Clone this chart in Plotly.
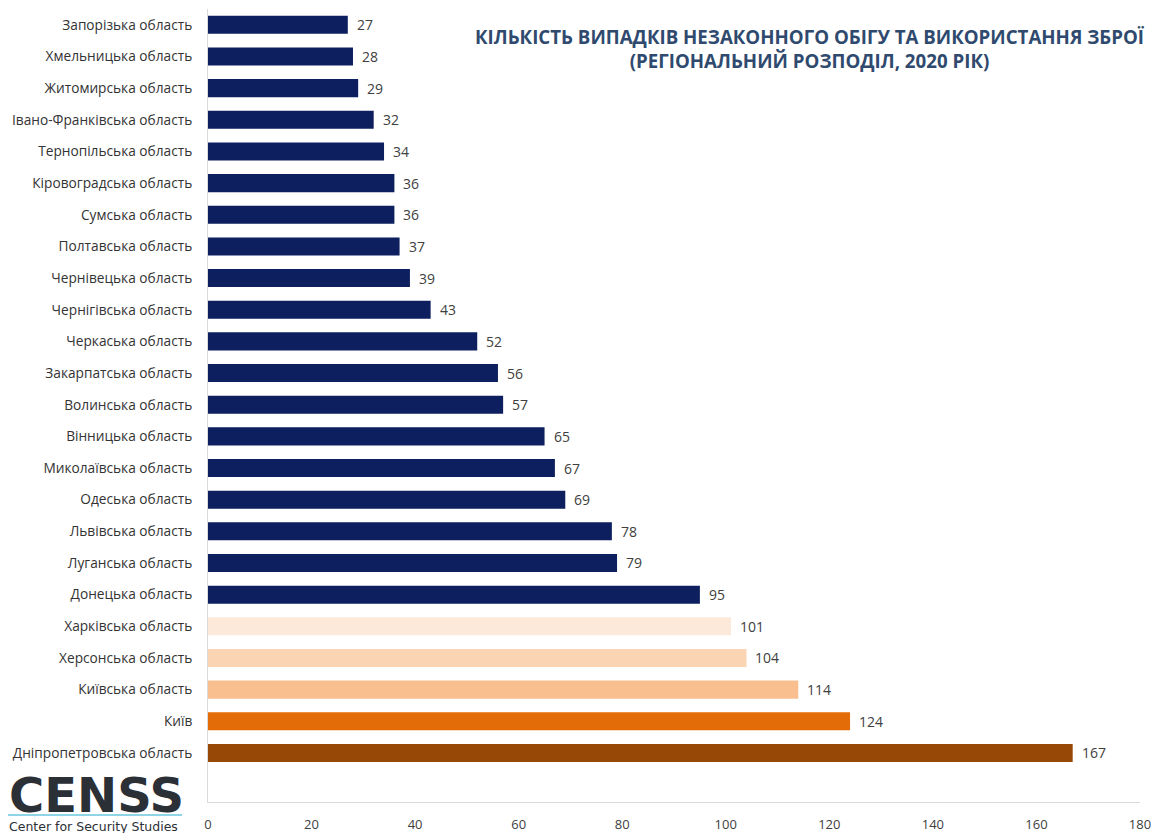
import plotly.graph_objects as go

regions = [
    "Запорізька область", "Хмельницька область", "Житомирська область",
    "Івано-Франківська область", "Тернопільська область", "Кіровоградська область",
    "Сумська область", "Полтавська область", "Чернівецька область",
    "Чернігівська область", "Черкаська область", "Закарпатська область",
    "Волинська область", "Вінницька область", "Миколаївська область",
    "Одеська область", "Львівська область", "Луганська область",
    "Донецька область", "Харківська область", "Херсонська область",
    "Київська область", "Київ", "Дніпропетровська область",
]
values = [27, 28, 29, 32, 34, 36, 36, 37, 39, 43, 52, 56, 57, 65, 67, 69,
          78, 79, 95, 101, 104, 114, 124, 167]
colors = ["#0d1f5e"] * 19 + ["#fde9d9", "#fbd4b4", "#fabf8f", "#e36c09", "#974806"]
x_ticks = [0, 20, 40, 60, 80, 100, 120, 140, 160, 180]

# page has an 8px body margin: the figure sits at (8, 8) on screen
OFF = 8
W, H = 1162 - OFF, 833 - OFF
L, T, R, B = 208 - OFF, 9 - OFF, 22, 31
PW, PH = W - L - R, H - T - B


def px(xs):
    return (xs - OFF - L) / PW


def py(ys):
    return 1 - (ys - OFF - T) / PH


fig = go.Figure(go.Bar(
    x=values, y=regions, orientation="h",
    marker=dict(color=colors, line=dict(width=0)),
    width=0.57,
    hoverinfo="x+y",
))

for v, r in zip(values, regions):
    fig.add_annotation(x=v, y=r, text=str(v), xanchor="left", yanchor="middle",
                       xshift=7, showarrow=False,
                       font=dict(family="Open Sans", size=14, color="#404040"))

fig.update_layout(
    width=W, height=H,
    margin=dict(l=L, r=R, t=T, b=B, autoexpand=False),
    paper_bgcolor="white", plot_bgcolor="white",
    showlegend=False,
    font=dict(family="Open Sans", size=13, color="#333333"),
    xaxis=dict(range=[0, 180], tickvals=x_ticks, showgrid=False, zeroline=False,
               showline=True, linecolor="#d9d9d9", linewidth=1, automargin=False,
               tickfont=dict(size=13, color="#404040"), ticklabelstandoff=10),
    yaxis=dict(type="category", range=[24.55, -0.5], showgrid=False,
               showline=True, linecolor="#d9d9d9", linewidth=1, automargin=False,
               tickfont=dict(size=13.7, color="#333333"), ticklabelstandoff=12),
)

fig.add_annotation(
    text="<b>КІЛЬКІСТЬ ВИПАДКІВ НЕЗАКОННОГО ОБІГУ ТА ВИКОРИСТАННЯ ЗБРОЇ</b><br><b>(РЕГІОНАЛЬНИЙ РОЗПОДІЛ, 2020 РІК)</b>",
    xref="paper", yref="paper", x=px(810), y=py(49),
    xanchor="center", yanchor="middle", showarrow=False, align="center",
    font=dict(family="Open Sans", size=18.7, color="#2f4a6e"),
)

# CENSS logo
fig.add_annotation(
    text="<b>CENSS</b>", xref="paper", yref="paper",
    x=px(7), y=py(795), xanchor="left", yanchor="middle",
    showarrow=False, font=dict(family="DejaVu Sans", size=48, color="#2b2f36"),
)
fig.add_shape(type="line", xref="paper", yref="paper",
              x0=px(8), x1=px(182), y0=py(815), y1=py(815),
              line=dict(color="#8fd3e6", width=2))
fig.add_annotation(
    text="Center for Security Studies", xref="paper", yref="paper",
    x=px(7), y=py(826), xanchor="left", yanchor="middle",
    showarrow=False, font=dict(family="DejaVu Sans", size=12.5, color="#2b2f36"),
)

fig.write_html("out.html")
